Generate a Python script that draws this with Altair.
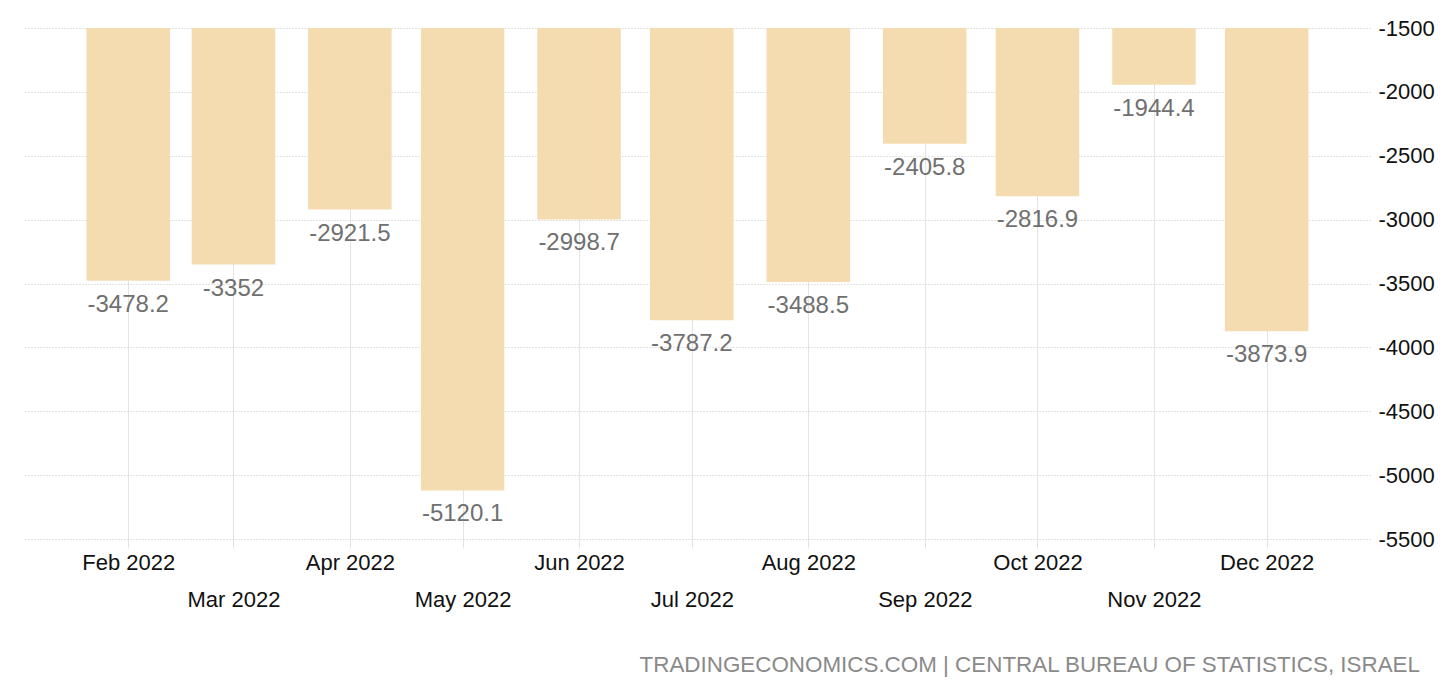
import altair as alt
import pandas as pd

months = ["2022-02-01T00:00:00", "2022-03-01T00:00:00", "2022-04-01T00:00:00",
          "2022-05-01T00:00:00", "2022-06-01T00:00:00", "2022-07-01T00:00:00",
          "2022-08-01T00:00:00", "2022-09-01T00:00:00", "2022-10-01T00:00:00",
          "2022-11-01T00:00:00", "2022-12-01T00:00:00"]
values = [-3478.2, -3352, -2921.5, -5120.1, -2998.7, -3787.2,
          -3488.5, -2405.8, -2816.9, -1944.4, -3873.9]
y_ticks = [-5500, -5000, -4500, -4000, -3500, -3000, -2500, -2000, -1500]
source_text = "TRADINGECONOMICS.COM | CENTRAL BUREAU OF STATISTICS, ISRAEL"

df = pd.DataFrame({"month": months, "value": values,
                   "label": [f"{v:g}" for v in values]})

FONT = "Liberation Sans"
x_ticks = [alt.DateTime(year=2022, month=m, date=1) for m in range(2, 13)]

x_enc = alt.X(
    "month:T", title=None,
    scale=alt.Scale(domain=[alt.DateTime(year=2022, month=1, date=4),
                            alt.DateTime(year=2022, month=12, date=28, hours=12)],
                    nice=False, padding=0),
    axis=alt.Axis(
        values=x_ticks,
        grid=True, gridColor="#e3e3e3", gridWidth=1,
        ticks=True, tickColor="#e3e3e3", tickSize=9,
        domain=False, labelAngle=0,
        labelFont=FONT, labelFontSize=22, labelColor="#111111",
        labelPadding=4, labelLineHeight=37, labelBaseline="top",
        labelExpr="month(datum.value) % 2 == 0 ? ['', timeFormat(datum.value, '%b %Y')] : timeFormat(datum.value, '%b %Y')",
    ),
)
y_enc = alt.Y(
    "value:Q", title=None,
    scale=alt.Scale(domain=[-5500, -1500], nice=False, zero=False),
    axis=alt.Axis(
        orient="right", values=y_ticks, grid=True, gridColor="#c8c8c8",
        gridDash=[1, 2], ticks=False, domain=False,
        labelExpr="'' + datum.value",
        labelFont=FONT, labelFontSize=22, labelColor="#111111", labelPadding=8,
    ),
)

bars = alt.Chart(df).mark_bar(color="#f4dcb0", width=83.5).encode(
    x=x_enc, y=y_enc, y2=alt.datum(-1500)
)
labels = alt.Chart(df).mark_text(
    baseline="top", dy=12, font=FONT, fontSize=24, color="#707070"
).encode(
    x=alt.X("month:T"), y=alt.Y("value:Q"), text="label:N"
)

chart = alt.layer(bars, labels).properties(
    width=1347, height=511,
    padding={"left": 15, "top": 20, "right": 75, "bottom": 140},
    autosize=alt.AutoSizeParams(type="none"),
    title=alt.TitleParams(
        text=source_text, orient="bottom", anchor="end", frame="group",
        font=FONT, fontSize=22.4, fontWeight="normal", color="#8a8a8a",
        offset=44, dx=50,
    ),
).configure(font=FONT).configure_view(stroke=None, strokeWidth=0)

chart.save("out.html", embed_options={"renderer": "svg", "actions": False})
